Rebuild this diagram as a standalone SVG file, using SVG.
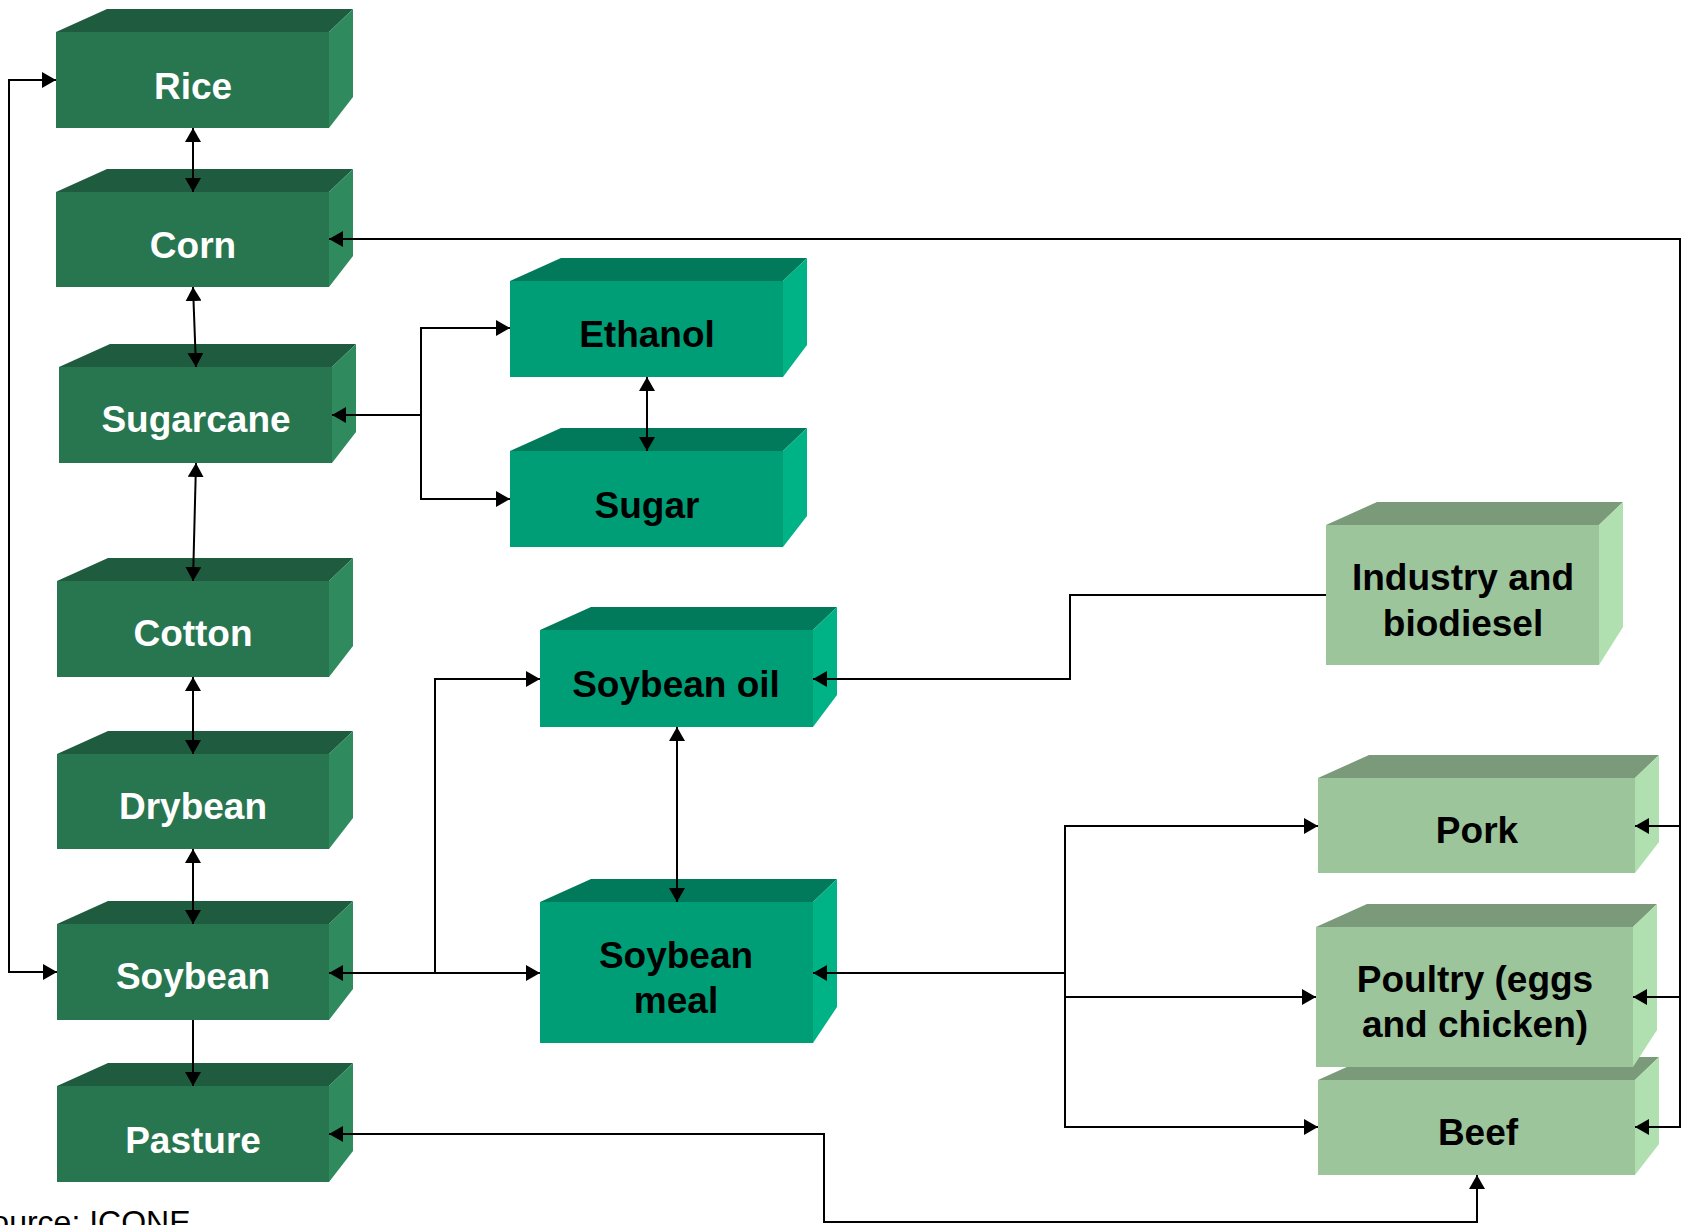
<svg xmlns="http://www.w3.org/2000/svg" width="1682" height="1225" viewBox="0 0 1682 1225">
<style>
.crop .t{fill:#1F5B3F}.crop .f{fill:#287650}.crop .s{fill:#2F8A5D}
.proc .t{fill:#007A5A}.proc .f{fill:#009E76}.proc .s{fill:#00B386}
.live .t{fill:#7A9A7A}.live .f{fill:#9CC59C}.live .s{fill:#B0DFB0}
.lbl{font-family:"Liberation Sans",Arial,Helvetica,sans-serif;font-weight:bold;font-size:37px;text-anchor:middle}
.crop .lbl{fill:#FFFFFF}.proc .lbl,.live .lbl{fill:#000000}
.c{fill:none;stroke:#000;stroke-width:2}
.src{font-family:"Liberation Sans",Arial,Helvetica,sans-serif;font-size:32px;fill:#000}
</style>
<defs>
<marker id="ah" markerUnits="userSpaceOnUse" markerWidth="14" markerHeight="16" refX="14" refY="8" orient="auto-start-reverse">
<path d="M0,0 L14,8 L0,16 z" fill="#000"/>
</marker>
</defs>
<rect width="1682" height="1225" fill="#fff"/>

<g id="rice" class="crop">
<polygon class="t" points="56,32 107,9 353,9 329,32"/>
<polygon class="s" points="329,32 353,9 353,97 329,128"/>
<rect class="f" x="56" y="32" width="273" height="96"/>
<text class="lbl" x="193" y="99">Rice</text>
</g>
<g id="corn" class="crop">
<polygon class="t" points="56,192 107,169 353,169 329,192"/>
<polygon class="s" points="329,192 353,169 353,256 329,287"/>
<rect class="f" x="56" y="192" width="273" height="95"/>
<text class="lbl" x="193" y="258">Corn</text>
</g>
<g id="sugarcane" class="crop">
<polygon class="t" points="59,367 110,344 356,344 332,367"/>
<polygon class="s" points="332,367 356,344 356,432 332,463"/>
<rect class="f" x="59" y="367" width="273" height="96"/>
<text class="lbl" x="196" y="432">Sugarcane</text>
</g>
<g id="cotton" class="crop">
<polygon class="t" points="57,581 108,558 353,558 329,581"/>
<polygon class="s" points="329,581 353,558 353,646 329,677"/>
<rect class="f" x="57" y="581" width="272" height="96"/>
<text class="lbl" x="193" y="646">Cotton</text>
</g>
<g id="drybean" class="crop">
<polygon class="t" points="57,754 108,731 353,731 329,754"/>
<polygon class="s" points="329,754 353,731 353,818 329,849"/>
<rect class="f" x="57" y="754" width="272" height="95"/>
<text class="lbl" x="193" y="819">Drybean</text>
</g>
<g id="soybean" class="crop">
<polygon class="t" points="57,924 108,901 353,901 329,924"/>
<polygon class="s" points="329,924 353,901 353,989 329,1020"/>
<rect class="f" x="57" y="924" width="272" height="96"/>
<text class="lbl" x="193" y="989">Soybean</text>
</g>
<g id="pasture" class="crop">
<polygon class="t" points="57,1086 108,1063 353,1063 329,1086"/>
<polygon class="s" points="329,1086 353,1063 353,1151 329,1182"/>
<rect class="f" x="57" y="1086" width="272" height="96"/>
<text class="lbl" x="193" y="1153">Pasture</text>
</g>

<g id="ethanol" class="proc">
<polygon class="t" points="510,281 561,258 807,258 783,281"/>
<polygon class="s" points="783,281 807,258 807,345 783,377"/>
<rect class="f" x="510" y="281" width="273" height="96"/>
<text class="lbl" x="647" y="347">Ethanol</text>
</g>
<g id="sugar" class="proc">
<polygon class="t" points="510,451 561,428 807,428 783,451"/>
<polygon class="s" points="783,451 807,428 807,516 783,547"/>
<rect class="f" x="510" y="451" width="273" height="96"/>
<text class="lbl" x="647" y="518">Sugar</text>
</g>
<g id="soybean-oil" class="proc">
<polygon class="t" points="540,630 591,607 837,607 813,630"/>
<polygon class="s" points="813,630 837,607 837,695 813,727"/>
<rect class="f" x="540" y="630" width="273" height="97"/>
<text class="lbl" x="676" y="697">Soybean oil</text>
</g>
<g id="soybean-meal" class="proc">
<polygon class="t" points="540,902 591,879 837,879 813,902"/>
<polygon class="s" points="813,902 837,879 837,1007 813,1043"/>
<rect class="f" x="540" y="902" width="273" height="141"/>
<text class="lbl" x="676" y="968">Soybean</text>
<text class="lbl" x="676" y="1013">meal</text>
</g>

<g id="industry" class="live">
<polygon class="t" points="1326,525 1377,502 1623,502 1599,525"/>
<polygon class="s" points="1599,525 1623,502 1623,627 1599,665"/>
<rect class="f" x="1326" y="525" width="273" height="140"/>
<text class="lbl" x="1463" y="590">Industry and</text>
<text class="lbl" x="1463" y="636">biodiesel</text>
</g>
<g id="pork" class="live">
<polygon class="t" points="1318,778 1369,755 1659,755 1635,778"/>
<polygon class="s" points="1635,778 1659,755 1659,842 1635,873"/>
<rect class="f" x="1318" y="778" width="317" height="95"/>
<text class="lbl" x="1477" y="843">Pork</text>
</g>
<g id="beef" class="live">
<polygon class="t" points="1318,1080 1369,1057 1659,1057 1635,1080"/>
<polygon class="s" points="1635,1080 1659,1057 1659,1144 1635,1175"/>
<rect class="f" x="1318" y="1080" width="317" height="95"/>
<text class="lbl" x="1478" y="1145">Beef</text>
</g>
<g id="poultry" class="live">
<polygon class="t" points="1316,927 1367,904 1657,904 1633,927"/>
<polygon class="s" points="1633,927 1657,904 1657,1030 1633,1067"/>
<rect class="f" x="1316" y="927" width="317" height="140"/>
<text class="lbl" x="1475" y="992">Poultry (eggs</text>
<text class="lbl" x="1475" y="1037">and chicken)</text>
</g>

<g id="connectors">
<path class="c" d="M193,128 V192" marker-start="url(#ah)" marker-end="url(#ah)"/>
<path class="c" d="M193,287 L196,367" marker-start="url(#ah)" marker-end="url(#ah)"/>
<path class="c" d="M196,463 L193,581" marker-start="url(#ah)" marker-end="url(#ah)"/>
<path class="c" d="M193,677 V754" marker-start="url(#ah)" marker-end="url(#ah)"/>
<path class="c" d="M193,849 V924" marker-start="url(#ah)" marker-end="url(#ah)"/>
<path class="c" d="M193,1020 V1086" marker-end="url(#ah)"/>
<path class="c" d="M56,80 H9 V972 H57" marker-start="url(#ah)" marker-end="url(#ah)"/>
<path class="c" d="M332,415 H421 V328 H510" marker-start="url(#ah)" marker-end="url(#ah)"/>
<path class="c" d="M421,415 V499 H510" marker-end="url(#ah)"/>
<path class="c" d="M647,377 V451" marker-start="url(#ah)" marker-end="url(#ah)"/>
<path class="c" d="M329,973 H435 V679 H540" marker-start="url(#ah)" marker-end="url(#ah)"/>
<path class="c" d="M435,973 H540" marker-end="url(#ah)"/>
<path class="c" d="M677,727 V902" marker-start="url(#ah)" marker-end="url(#ah)"/>
<path class="c" d="M1326,595 H1070 V679 H813" marker-end="url(#ah)"/>
<path class="c" d="M813,973 H1065 V826 H1318" marker-start="url(#ah)" marker-end="url(#ah)"/>
<path class="c" d="M1065,973 V997 H1316" marker-end="url(#ah)"/>
<path class="c" d="M1065,997 V1127 H1318" marker-end="url(#ah)"/>
<path class="c" d="M329,239 H1680 V1127 H1635" marker-start="url(#ah)" marker-end="url(#ah)"/>
<path class="c" d="M1680,826 H1635" marker-end="url(#ah)"/>
<path class="c" d="M1680,997 H1633" marker-end="url(#ah)"/>
<path class="c" d="M329,1134 H824 V1222 H1477 V1175" marker-start="url(#ah)" marker-end="url(#ah)"/>
</g>

<text class="src" x="-30" y="1233">Source: ICONE</text>
</svg>
